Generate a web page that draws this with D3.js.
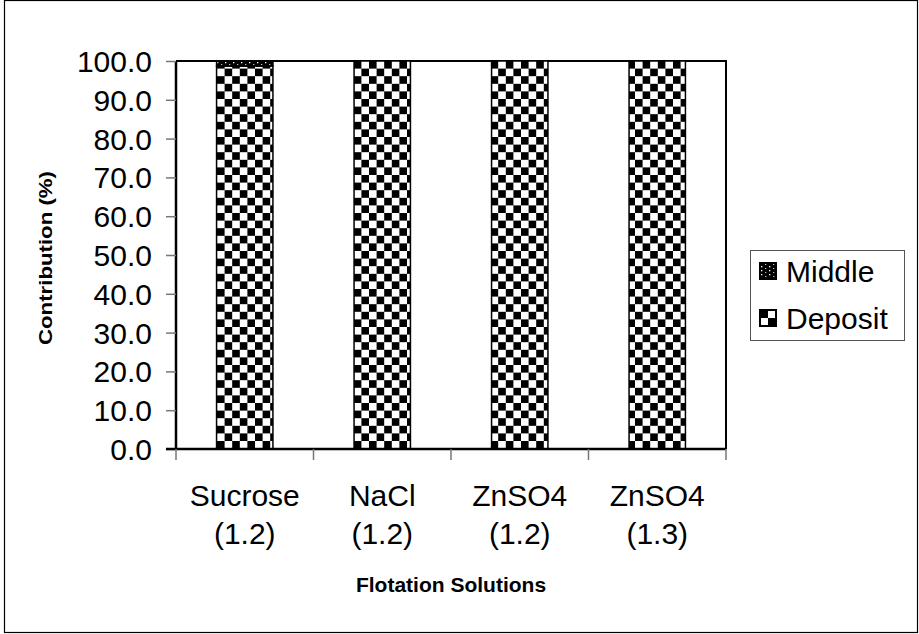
<!DOCTYPE html>
<html><head><meta charset="utf-8">
<script src="https://cdn.jsdelivr.net/npm/d3@7"></script>
<style>body{margin:0;background:#fff}svg{display:block;font-family:"Liberation Sans",Arial,sans-serif}</style>
</head><body><svg id="c" width="919" height="634"></svg>
<script>
const categories = [["Sucrose","(1.2)"],["NaCl","(1.2)"],["ZnSO4","(1.2)"],["ZnSO4","(1.3)"]];
const deposit = [98.7, 100, 100, 100];
const middle = [1.3, 0, 0, 0];
const yTicks = [0,10,20,30,40,50,60,70,80,90,100];
const seriesNames = ["Middle","Deposit"];

const svg = d3.select("#c");
const m={l:176,t:61,r:726,b:449};
const FS=30;
svg.append("rect").attr("x",4.5).attr("y",0.5).attr("width",913).attr("height",632).attr("fill","#fff").attr("stroke","#000").attr("stroke-width",1.2);

const defs=svg.append("defs");
const s=7.6;
const chk=defs.append("pattern").attr("id","chk").attr("patternUnits","userSpaceOnUse").attr("width",2*s).attr("height",2*s).attr("x",217).attr("y",m.t);
chk.append("rect").attr("width",2*s).attr("height",2*s).attr("fill","#fff");
chk.append("rect").attr("width",s).attr("height",s).attr("fill","#000");
chk.append("rect").attr("x",s).attr("y",s).attr("width",s).attr("height",s).attr("fill","#000");
const dot=defs.append("pattern").attr("id","dot").attr("patternUnits","userSpaceOnUse").attr("width",8).attr("height",4).attr("x",0).attr("y",m.t);
dot.append("rect").attr("width",8).attr("height",4).attr("fill","#000");
dot.append("rect").attr("x",1).attr("y",1).attr("width",1.3).attr("height",1.3).attr("fill","#fff");
dot.append("rect").attr("x",5).attr("y",3).attr("width",1.3).attr("height",1).attr("fill","#bbb");
const chk2=defs.append("pattern").attr("id","chk2").attr("patternUnits","userSpaceOnUse").attr("width",16).attr("height",16).attr("x",760).attr("y",310);
chk2.append("rect").attr("width",16).attr("height",16).attr("fill","#fff");
chk2.append("rect").attr("width",8).attr("height",8).attr("fill","#000");
chk2.append("rect").attr("x",8).attr("y",8).attr("width",8).attr("height",8).attr("fill","#000");

const x=d3.scaleBand().domain(d3.range(categories.length)).range([m.l,m.r]).paddingInner(0.59).paddingOuter(0.295);
const y=d3.scaleLinear().domain([0,100]).range([m.b,m.t]);

const g=svg.append("g");
g.append("path").attr("d",`M${m.l},${m.t}H${m.r}V${m.b}`).attr("fill","none").attr("stroke","#000").attr("stroke-width",2);

categories.forEach((c,i)=>{
  g.append("rect").attr("x",x(i)).attr("width",x.bandwidth()).attr("y",y(deposit[i])).attr("height",y(0)-y(deposit[i]))
   .attr("fill","url(#chk)").attr("stroke","#000").attr("stroke-width",1.5);
  if(middle[i]>0){
    g.append("rect").attr("x",x(i)).attr("width",x.bandwidth()).attr("y",y(deposit[i]+middle[i])).attr("height",y(deposit[i])-y(deposit[i]+middle[i]))
     .attr("fill","url(#dot)").attr("stroke","#000").attr("stroke-width",1.5);
  }
});

const ya=svg.append("g").attr("transform",`translate(${m.l},0)`).call(d3.axisLeft(y).tickValues(yTicks).tickSize(10).tickFormat(d=>d.toFixed(1)));
ya.select(".domain").attr("stroke","#000").attr("stroke-width",2.5).attr("d",`M0,${m.t}V${m.b}`);
ya.selectAll(".tick line").attr("stroke","#777").attr("stroke-width",1.5);
ya.selectAll(".tick text").attr("font-size",FS).attr("fill","#000").attr("x",-24).attr("dy","0.35em").attr("font-family","Liberation Sans, Arial, sans-serif");

const step=(m.r-m.l)/categories.length;
const xa=svg.append("g");
xa.append("line").attr("x1",m.l-10).attr("x2",m.r).attr("y1",m.b).attr("y2",m.b).attr("stroke","#000").attr("stroke-width",2.5);
d3.range(categories.length+1).forEach(k=>{
  xa.append("line").attr("x1",m.l+k*step).attr("x2",m.l+k*step).attr("y1",m.b).attr("y2",m.b+11).attr("stroke","#777").attr("stroke-width",1.5);
});
categories.forEach((c,i)=>{
  const cx=x(i)+x.bandwidth()/2;
  c.forEach((t,j)=>{
    xa.append("text").attr("x",cx).attr("y",506+j*38).attr("text-anchor","middle").attr("font-size",FS).text(t);
  });
});

svg.append("text").attr("x",(m.l+m.r)/2).attr("y",592).attr("text-anchor","middle").attr("font-size",21).attr("font-weight","bold").text("Flotation Solutions");
svg.append("text").attr("transform",`translate(52,258) rotate(-90)`).attr("text-anchor","middle").attr("font-size",17.5).attr("font-weight","bold").attr("textLength",174).attr("lengthAdjust","spacingAndGlyphs").text("Contribution (%)");

const lg=svg.append("g");
lg.append("rect").attr("x",750.5).attr("y",250.5).attr("width",154).attr("height",90).attr("fill","#fff").attr("stroke","#555").attr("stroke-width",1);
const lf=["url(#dot)","url(#chk2)"];
seriesNames.forEach((n,i)=>{
  const cy=271+i*47;
  lg.append("rect").attr("x",760).attr("y",cy-8).attr("width",16).attr("height",16).attr("fill",lf[i]).attr("stroke","#000").attr("stroke-width",2);
  lg.append("text").attr("x",786).attr("y",cy+11).attr("font-size",FS).text(n);
});
</script></body></html>
